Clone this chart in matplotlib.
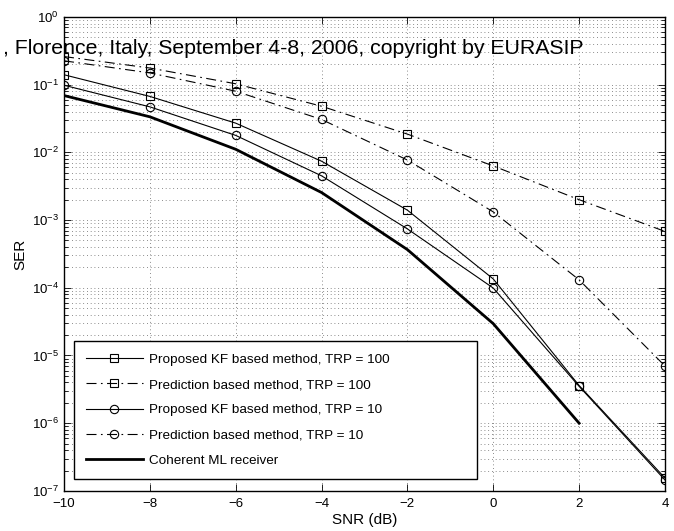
import matplotlib
matplotlib.use("Agg")
import matplotlib.pyplot as plt
from matplotlib.ticker import LogLocator, NullFormatter

plt.rcParams['font.family'] = ['Liberation Sans', 'DejaVu Sans']
plt.rcParams['mathtext.fontset'] = 'custom'
plt.rcParams['mathtext.rm'] = 'Liberation Sans'

# SER vs SNR curves
snr = [-10, -8, -6, -4, -2, 0, 2, 4]
snr_ml = [-10, -8, -6, -4, -2, 0, 2]

kf_trp100 = [0.14, 0.067, 0.027, 7.4e-3, 1.4e-3, 1.35e-4, 3.6e-6, 1.55e-7]
pred_trp100 = [0.26, 0.176, 0.103, 0.048, 0.0186, 6.3e-3, 2.0e-3, 6.8e-4]
kf_trp10 = [0.098, 0.047, 0.0178, 4.5e-3, 7.4e-4, 9.9e-5, 3.5e-6, 1.45e-7]
pred_trp10 = [0.225, 0.149, 0.080, 0.0306, 7.7e-3, 1.32e-3, 1.31e-4, 7.0e-6]
coherent_ml = [0.069, 0.0335, 0.0111, 2.55e-3, 3.66e-4, 2.95e-5, 1.0e-6]

labels = ['Proposed KF based method, TRP = 100',
          'Prediction based method, TRP = 100',
          'Proposed KF based method, TRP = 10',
          'Prediction based method, TRP = 10',
          'Coherent ML receiver']

fig = plt.figure(figsize=(6.74, 5.31), dpi=100)
ax = fig.add_axes([0.095, 0.0755, 0.8916, 0.8926])

dashdot = (0, (9, 4, 1.5, 4))
mk = dict(markerfacecolor='none', markeredgecolor='black', markeredgewidth=0.8)

ax.semilogy(snr, kf_trp100, color='black', lw=0.8, marker='s', ms=5.5, **mk, label=labels[0])
ax.semilogy(snr, pred_trp100, color='black', lw=0.8, ls=dashdot, marker='s', ms=5.5, **mk, label=labels[1])
ax.semilogy(snr, kf_trp10, color='black', lw=0.8, marker='o', ms=6, **mk, label=labels[2])
ax.semilogy(snr, pred_trp10, color='black', lw=0.8, ls=dashdot, marker='o', ms=6, **mk, label=labels[3])
ax.semilogy(snr_ml, coherent_ml, color='black', lw=2.0, label=labels[4])

ax.set_xlim(-10, 4)
ax.set_ylim(1e-7, 1)
ax.set_xticks([-10, -8, -6, -4, -2, 0, 2, 4])
ax.set_xticklabels(['\u221210', '\u22128', '\u22126', '\u22124', '\u22122', '0', '2', '4'])
ax.yaxis.set_major_locator(LogLocator(base=10, numticks=10))
ax.yaxis.set_minor_locator(LogLocator(base=10, subs=range(2, 10), numticks=100))
ax.yaxis.set_minor_formatter(NullFormatter())

ax.tick_params(which='both', direction='in', top=True, right=True, labelsize=9.5)
ax.tick_params(which='major', length=5, width=0.6)
ax.tick_params(which='minor', length=3, width=0.6)
ax.tick_params(axis='x', pad=5)
for s in ax.spines.values():
    s.set_linewidth(1.0)

ax.grid(True, which='major', axis='both', color='0.4', ls=(0, (1, 3.5)), lw=0.6)
ax.grid(True, which='minor', axis='y', color='0.4', ls=(0, (1, 3.5)), lw=0.6)

ax.set_xlabel('SNR (dB)', fontsize=11, labelpad=2)
ax.set_ylabel('SER', fontsize=11, labelpad=3)

leg = ax.legend(loc='lower left', bbox_to_anchor=(0.0166, 0.0253, 0.6705, 0.289),
                mode='expand', fontsize=9.7,
                fancybox=False, edgecolor='black', framealpha=1, numpoints=1,
                handlelength=4.2, handletextpad=0.5, labelspacing=0.95,
                borderpad=0.9, borderaxespad=0)
leg.get_frame().set_linewidth(1.0)

fig.text(0.004, 1 - 49 / 531, ', Florence, Italy, September 4-8, 2006, copyright by EURASIP',
         fontsize=15.3, va='center', ha='left')

fig.savefig('out.png', dpi=100)
